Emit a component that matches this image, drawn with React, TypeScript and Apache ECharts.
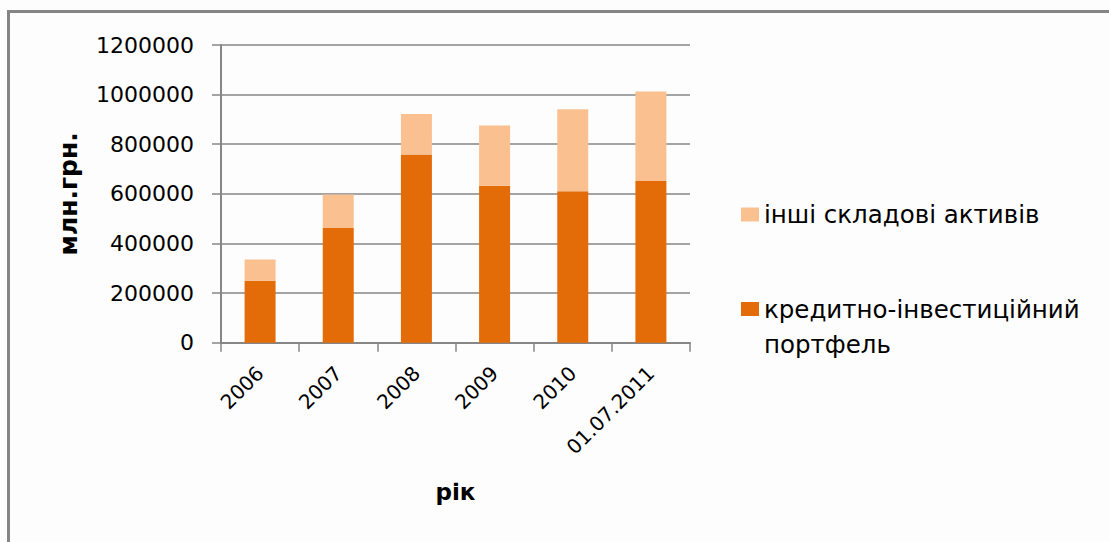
import React, { useEffect, useRef } from "react";
import * as echarts from "echarts";

const categories = ["2006", "2007", "2008", "2009", "2010", "01.07.2011"];
const creditPortfolio = [250000, 462000, 759000, 633000, 610000, 652000];
const otherAssets = [85000, 135000, 163000, 243000, 331000, 361000];
const yTicks = { min: 0, max: 1200000, interval: 200000 };
const seriesNames = ["інші складові активів", "кредитно-інвестиційний портфель"];

export default function App() {
  const ref = useRef<HTMLDivElement>(null);
  useEffect(() => {
    const chart = echarts.init(ref.current!, null, { renderer: "svg" });
    const font = "DejaVu Sans";
    chart.setOption({
      animation: false,
      backgroundColor: "#fdfdfd",
      textStyle: { fontFamily: font, color: "#000" },
      graphic: [
        {
          type: "rect",
          shape: { x: 8.5, y: 11.5, width: 1200, height: 600 },
          style: { fill: "none", stroke: "#858585", lineWidth: 3 },
          silent: true,
        },
      ],
      grid: { left: 221, right: 419, top: 45, bottom: 199.3, containLabel: false },
      legend: {
        orient: "vertical",
        left: 736,
        top: 185,
        padding: 5,
        itemWidth: 18,
        itemHeight: 49,
        itemGap: 52.5,
        textStyle: { fontFamily: font, fontSize: 24.5, color: "#000", lineHeight: 35 },
        formatter: (n: string) => (n === seriesNames[1] ? "кредитно-інвестиційний\nпортфель" : n),
        data: [
          { name: seriesNames[0], icon: "path://M0,0 M0,17.5h18v14h-18z M0,49" },
          { name: seriesNames[1], icon: "path://M0,0h18v14h-18z M0,49" },
        ],
      },
      xAxis: {
        type: "category",
        data: categories,
        name: "рік",
        nameLocation: "middle",
        nameGap: 138,
        nameTextStyle: { fontFamily: font, fontSize: 23, fontWeight: "bold", color: "#000" },
        axisLine: { lineStyle: { color: "#868686", width: 2 } },
        axisTick: { show: true, length: 9, lineStyle: { color: "#868686", width: 1.5 } },
        axisLabel: { rotate: 45, margin: 27, fontFamily: font, fontSize: 20, color: "#000" },
      },
      yAxis: {
        type: "value",
        min: yTicks.min,
        max: yTicks.max,
        interval: yTicks.interval,
        name: "млн.грн.",
        nameLocation: "middle",
        nameRotate: 90,
        nameGap: 140,
        nameTextStyle: { fontFamily: font, fontSize: 25, fontWeight: "bold", color: "#000" },
        axisLine: { show: true, lineStyle: { color: "#868686", width: 2 } },
        axisTick: { show: true, length: 9, lineStyle: { color: "#868686", width: 1.5 } },
        axisLabel: {
          margin: 27,
          fontFamily: font,
          fontSize: 22,
          color: "#000",
          formatter: (v: number) => String(v),
        },
        splitLine: { lineStyle: { color: "#868686", width: 1.5 } },
      },
      series: [
        {
          name: seriesNames[1],
          type: "bar",
          stack: "total",
          barWidth: 31,
          data: creditPortfolio,
          itemStyle: { color: "#E36C09" },
        },
        {
          name: seriesNames[0],
          type: "bar",
          stack: "total",
          barWidth: 31,
          data: otherAssets,
          itemStyle: { color: "#FAC090" },
        },
      ],
    });
    return () => chart.dispose();
  }, []);
  return (
    <div
      ref={ref}
      style={{ position: "fixed", left: 0, top: 0, width: 1109, height: 542 }}
    />
  );
}
